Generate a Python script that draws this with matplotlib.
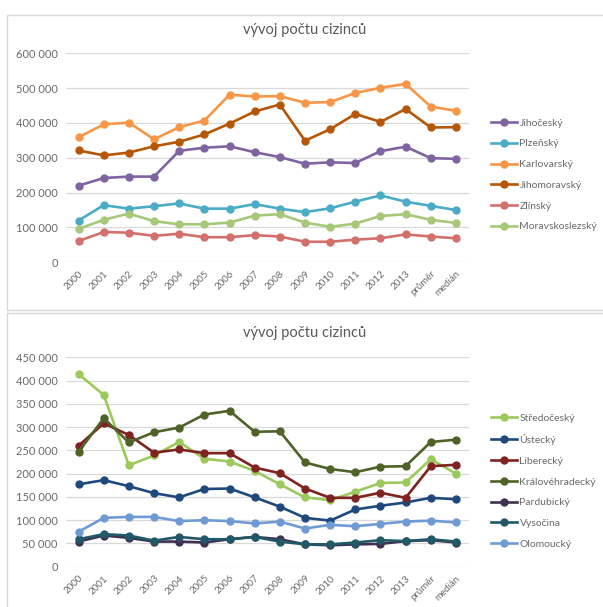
import matplotlib
matplotlib.use("Agg")
import matplotlib.pyplot as plt
from matplotlib.patches import Rectangle
from matplotlib.ticker import FuncFormatter, MultipleLocator

plt.rcParams['font.family'] = ['Lato', 'DejaVu Sans']

# categories on x axis
labels = ['2000', '2001', '2002', '2003', '2004', '2005', '2006', '2007',
          '2008', '2009', '2010', '2011', '2012', '2013', 'průměr', 'medián']

# top chart (thousands)
jihocesky = [220, 242, 246, 246, 320, 329, 333, 316, 302, 283, 287, 285, 319, 332, 299, 297]
plzensky = [120, 164, 154, 161, 169, 154, 154, 167, 154, 144, 155, 174, 192, 174, 162, 150]
karlovarsky = [359, 396, 401, 353, 388, 407, 481, 476, 477, 458, 460, 486, 501, 512, 447, 435]
jihomoravsky = [321, 307, 315, 333, 346, 367, 398, 433, 453, 349, 382, 426, 403, 440, 387, 388]
zlinsky = [61, 87, 85, 76, 82, 72, 72, 78, 74, 59, 59, 65, 69, 80, 74, 69]
moravskoslezsky = [96, 122, 140, 118, 109, 109, 114, 134, 138, 114, 102, 111, 133, 138, 122, 113]

# bottom chart (thousands)
stredocesky = [414, 369, 218, 239, 268, 232, 226, 206, 177, 149, 143, 161, 180, 181, 231, 200]
ustecky = [177, 186, 173, 158, 149, 167, 168, 149, 129, 105, 99, 123, 131, 138, 148, 145]
liberecky = [260, 308, 283, 245, 252, 244, 244, 213, 201, 168, 148, 148, 159, 148, 216, 219]
kralovehradecky = [247, 319, 267, 289, 299, 327, 335, 290, 291, 224, 210, 203, 215, 216, 268, 273]
pardubicky = [54, 67, 62, 54, 54, 52, 59, 64, 59, 48, 46, 48, 49, 55, 57, 52]
vysocina = [59, 70, 67, 56, 64, 59, 59, 64, 54, 48, 48, 52, 57, 55, 59, 54]
olomoucky = [75, 105, 107, 107, 98, 100, 98, 93, 97, 82, 90, 87, 92, 97, 99, 95]

top_series = [('Jihočeský', jihocesky, '#8064A2'),
              ('Plzeňský', plzensky, '#4BACC6'),
              ('Karlovarský', karlovarsky, '#F79646'),
              ('Jihomoravský', jihomoravsky, '#B65708'),
              ('Zlínský', zlinsky, '#D4706C'),
              ('Moravskoslezský', moravskoslezsky, '#A6C878')]
bottom_series = [('Středočeský', stredocesky, '#9BC95B'),
                 ('Ústecký', ustecky, '#1F497D'),
                 ('Liberecký', liberecky, '#7E2320'),
                 ('Královéhradecký', kralovehradecky, '#4F6228'),
                 ('Pardubický', pardubicky, '#403152'),
                 ('Vysočina', vysocina, '#215968'),
                 ('Olomoucký', olomoucky, '#6F9BD5')]

W, H = 603, 607
fig = plt.figure(figsize=(W / 100, H / 100), dpi=100)

# panel frames (behind the axes)
for (y0, y1) in [(15, 310), (313, 612)]:
    fig.patches.append(Rectangle((7 / W, 1 - y1 / H), 600 / W, (y1 - y0) / H,
                                 transform=fig.transFigure, facecolor='white',
                                 edgecolor='#d9d9d9', lw=1.0, zorder=-10))

fmt = FuncFormatter(lambda v, p: '{:,.0f}'.format(v).replace(',', ' '))
txt_col = '#6a6a6a'


def draw(ax_px, ymax, step, series, title_y, leg_y):
    x0, x1, ytop, ybot = ax_px
    ax = fig.add_axes([x0 / W, 1 - ybot / H, (x1 - x0) / W, (ybot - ytop) / H])
    ax.patch.set_visible(False)
    xs = range(len(labels))
    handles = []
    for name, vals, col in series:
        h, = ax.plot(xs, [v * 1000 for v in vals], color=col, lw=1.9,
                     marker='o', markersize=5, label=name)
        handles.append(h)
    ax.set_xlim(-0.5, len(labels) - 0.5)
    ax.set_ylim(0, ymax)
    ax.yaxis.set_major_locator(MultipleLocator(step))
    ax.yaxis.set_major_formatter(fmt)
    ax.grid(axis='y', color='#d9d9d9', lw=0.9)
    ax.set_axisbelow(True)
    for s in ax.spines.values():
        s.set_visible(False)
    ax.set_xticks(list(xs))
    ax.set_xticklabels(labels, rotation=45, ha='right', rotation_mode='anchor')
    ax.tick_params(axis='y', length=0, labelsize=8, colors=txt_col, pad=6)
    ax.tick_params(axis='x', length=0, labelsize=7, colors=txt_col, pad=5)
    fig.text(305 / W, 1 - title_y / H, 'vývoj počtu cizinců', ha='center', va='center',
             fontsize=10.5, color='#595959')
    fig.legend(handles=handles, loc='upper left', bbox_to_anchor=(482 / W, 1 - leg_y / H),
               frameon=False, fontsize=7.5, handlelength=2.5, handletextpad=0.2,
               labelspacing=1.1, labelcolor=txt_col)
    return ax


draw((66, 468.5, 53.3, 262.3), 600000, 100000, top_series, 30, 109)
draw((66, 468.5, 357.3, 566.7), 450000, 50000, bottom_series, 333, 404)

fig.savefig('out.png', dpi=100)
